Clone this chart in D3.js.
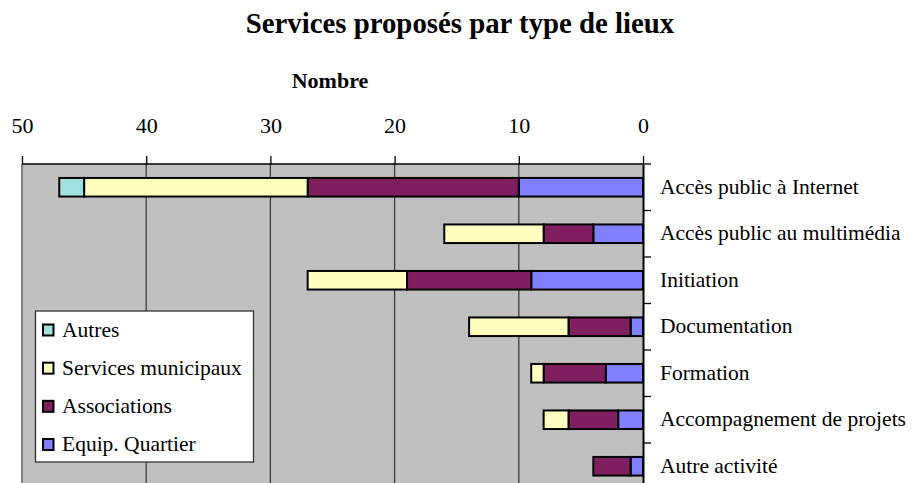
<!DOCTYPE html>
<html>
<head>
<meta charset="utf-8">
<script src="https://cdn.jsdelivr.net/npm/d3@7"></script>
<style>
  html, body { margin: 0; padding: 0; background: #fff; overflow: hidden; }
  svg { display: block; font-family: "Liberation Serif", "Times New Roman", serif; }
</style>
</head>
<body>
<svg id="chart" width="914" height="483"></svg>
<script>
const categories = ["Accès public à Internet", "Accès public au multimédia", "Initiation", "Documentation", "Formation", "Accompagnement de projets", "Autre activité"];
const seriesNames = ["Equip. Quartier", "Associations", "Services municipaux", "Autres"];
const equipQuartier = [10, 4, 9, 1, 3, 2, 1];
const associations = [17, 4, 10, 5, 5, 4, 3];
const servicesMunicipaux = [18, 8, 8, 8, 1, 2, 0];
const autres = [2, 0, 0, 0, 0, 0, 0];
const tickValues = [50, 40, 30, 20, 10, 0];
const colors = { "Equip. Quartier": "#8080FF", "Associations": "#7F1F5F", "Services municipaux": "#FFFFC0", "Autres": "#A0E0E0" };
const legendOrder = ["Autres", "Services municipaux", "Associations", "Equip. Quartier"];

const svg = d3.select("#chart");
const plot = { left: 22, right: 643, top: 164, bottom: 489.5 };

const x = d3.scaleLinear().domain([50, 0]).range([plot.left, plot.right]);
const y = d3.scaleBand().domain(categories).range([plot.top, plot.bottom]).paddingInner(0.6).paddingOuter(0.3);
const yOuter = d3.scaleBand().domain(categories).range([plot.top, plot.bottom]);

const rows = categories.map((c, i) => ({
  cat: c,
  "Equip. Quartier": equipQuartier[i],
  "Associations": associations[i],
  "Services municipaux": servicesMunicipaux[i],
  "Autres": autres[i]
}));
const stacked = d3.stack().keys(seriesNames)(rows);

// title
svg.append("text").attr("x", 460).attr("y", 33).attr("text-anchor", "middle")
  .attr("font-weight", "bold").attr("font-size", 28.8).text("Services proposés par type de lieux");
svg.append("text").attr("x", 330).attr("y", 88).attr("text-anchor", "middle")
  .attr("font-weight", "bold").attr("font-size", 22).text("Nombre");

// plot background
svg.append("rect").attr("x", plot.left).attr("y", plot.top)
  .attr("width", plot.right - plot.left).attr("height", plot.bottom - plot.top).attr("fill", "#C0C0C0");

// gridlines
svg.append("g").selectAll("line").data(tickValues.filter(t => t !== 0 && t !== 50)).join("line")
  .attr("x1", d => x(d)).attr("x2", d => x(d)).attr("y1", plot.top).attr("y2", plot.bottom)
  .attr("stroke", "#3a3a3a").attr("stroke-width", 1.3);
// left border
svg.append("line").attr("x1", plot.left).attr("x2", plot.left).attr("y1", plot.top).attr("y2", plot.bottom)
  .attr("stroke", "#808080").attr("stroke-width", 2);

// bars
const g = svg.append("g");
stacked.forEach(s => {
  g.selectAll(null).data(s.filter(d => d[1] - d[0] > 0)).join("rect")
    .attr("x", d => x(d[1])).attr("width", d => x(d[0]) - x(d[1]))
    .attr("y", d => y(d.data.cat)).attr("height", y.bandwidth())
    .attr("fill", colors[s.key]).attr("stroke", "#000").attr("stroke-width", 2);
});

// top axis
const xAxis = d3.axisTop(x).tickValues(tickValues).tickSize(8).tickFormat(d3.format("d"));
const ax = svg.append("g").attr("transform", `translate(0,${plot.top})`).call(xAxis);
ax.attr("font-family", null);
ax.select(".domain").attr("stroke", "#000").attr("stroke-width", 1.3).attr("d", `M${plot.left},0H${plot.right}`);
ax.selectAll(".tick line").attr("stroke", "#000").attr("stroke-width", 1.3);
ax.selectAll(".tick text").style("font-family", "'Liberation Serif', 'Times New Roman', serif")
  .attr("font-size", 22).attr("fill", "#000").attr("y", -31).attr("dy", 0);

// right axis
const yAxis = d3.axisRight(yOuter).tickSize(0).tickPadding(17);
const ay = svg.append("g").attr("transform", `translate(${plot.right},0)`).call(yAxis);
ay.attr("font-family", null);
ay.select(".domain").attr("stroke", "#000").attr("stroke-width", 2);
ay.selectAll(".tick text").style("font-family", "'Liberation Serif', 'Times New Roman', serif")
  .attr("font-size", 21.5).attr("fill", "#000").attr("dy", "0.3em");
// category separator ticks
svg.append("g").selectAll("line").data(categories).join("line")
  .attr("x1", plot.right).attr("x2", plot.right + 8)
  .attr("y1", d => yOuter(d)).attr("y2", d => yOuter(d))
  .attr("stroke", "#000").attr("stroke-width", 1.3);

// legend
const lg = svg.append("g");
lg.append("rect").attr("x", 35.5).attr("y", 311).attr("width", 218).attr("height", 151)
  .attr("fill", "#fff").attr("stroke", "#333").attr("stroke-width", 1.3);
const legY = d3.scalePoint().domain(legendOrder).range([330, 444.5]);
legendOrder.forEach(k => {
  lg.append("rect").attr("x", 43).attr("y", legY(k) - 5.5).attr("width", 10.5).attr("height", 11)
    .attr("fill", colors[k]).attr("stroke", "#000").attr("stroke-width", 2);
  lg.append("text").attr("x", 62).attr("y", legY(k) + 6.5).attr("font-size", 21.5).text(k);
});
</script>
</body>
</html>
